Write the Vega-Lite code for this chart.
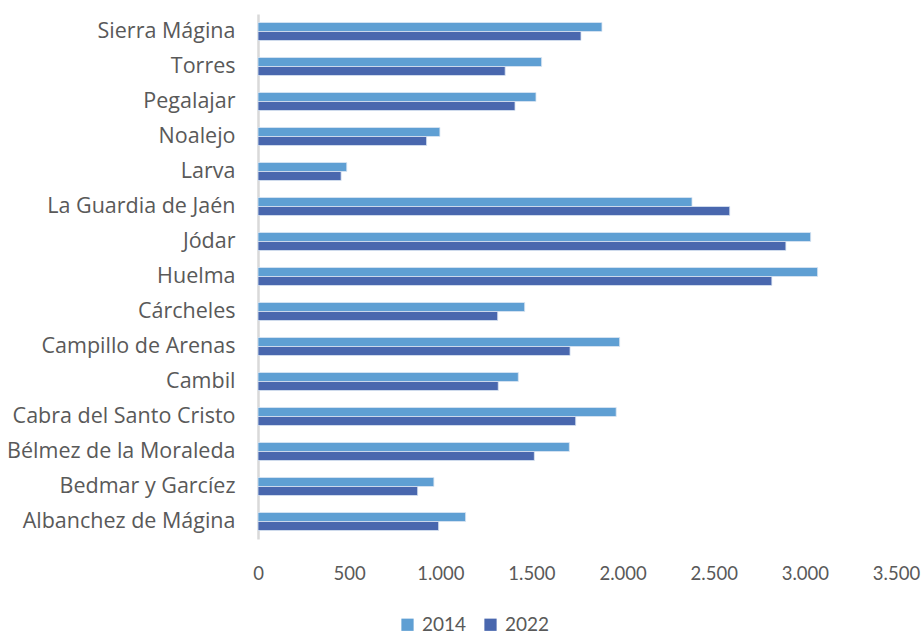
{
  "$schema": "https://vega.github.io/schema/vega-lite/v6.json",
  "width": 638,
  "height": 525,
  "autosize": {"type": "none"},
  "padding": {"left": 258, "top": 14, "right": 28, "bottom": 96},
  "background": "white",
  "config": {"view": {"stroke": null}, "font": "Lato"},
  "data": {
    "values": [
      {"municipio": "Sierra Mágina", "year": "2014", "value": 1887},
      {"municipio": "Sierra Mágina", "year": "2022", "value": 1772},
      {"municipio": "Torres", "year": "2014", "value": 1556},
      {"municipio": "Torres", "year": "2022", "value": 1356},
      {"municipio": "Pegalajar", "year": "2014", "value": 1525},
      {"municipio": "Pegalajar", "year": "2022", "value": 1410},
      {"municipio": "Noalejo", "year": "2014", "value": 998},
      {"municipio": "Noalejo", "year": "2022", "value": 925},
      {"municipio": "Larva", "year": "2014", "value": 487},
      {"municipio": "Larva", "year": "2022", "value": 456},
      {"municipio": "La Guardia de Jaén", "year": "2014", "value": 2381},
      {"municipio": "La Guardia de Jaén", "year": "2022", "value": 2588},
      {"municipio": "Jódar", "year": "2014", "value": 3032},
      {"municipio": "Jódar", "year": "2022", "value": 2896},
      {"municipio": "Huelma", "year": "2014", "value": 3070},
      {"municipio": "Huelma", "year": "2022", "value": 2819},
      {"municipio": "Cárcheles", "year": "2014", "value": 1463},
      {"municipio": "Cárcheles", "year": "2022", "value": 1315},
      {"municipio": "Campillo de Arenas", "year": "2014", "value": 1984},
      {"municipio": "Campillo de Arenas", "year": "2022", "value": 1712},
      {"municipio": "Cambil", "year": "2014", "value": 1428},
      {"municipio": "Cambil", "year": "2022", "value": 1318},
      {"municipio": "Cabra del Santo Cristo", "year": "2014", "value": 1965},
      {"municipio": "Cabra del Santo Cristo", "year": "2022", "value": 1743},
      {"municipio": "Bélmez de la Moraleda", "year": "2014", "value": 1708},
      {"municipio": "Bélmez de la Moraleda", "year": "2022", "value": 1516},
      {"municipio": "Bedmar y Garcíez", "year": "2014", "value": 965},
      {"municipio": "Bedmar y Garcíez", "year": "2022", "value": 876},
      {"municipio": "Albanchez de Mágina", "year": "2014", "value": 1139},
      {"municipio": "Albanchez de Mágina", "year": "2022", "value": 991}
    ]
  },
  "mark": {"type": "bar", "stroke": "#dbe6f3", "strokeWidth": 0.8},
  "encoding": {
    "y": {
      "field": "municipio",
      "type": "nominal",
      "sort": ["Sierra Mágina", "Torres", "Pegalajar", "Noalejo", "Larva", "La Guardia de Jaén", "Jódar", "Huelma", "Cárcheles", "Campillo de Arenas", "Cambil", "Cabra del Santo Cristo", "Bélmez de la Moraleda", "Bedmar y Garcíez", "Albanchez de Mágina"],
      "scale": {"paddingInner": 0.486, "paddingOuter": 0.243},
      "axis": {
        "title": null,
        "ticks": false,
        "domainColor": "#d9d9d9",
        "domainWidth": 2.5,
        "labelFont": "Open Sans",
        "labelFontSize": 21.5,
        "labelColor": "#595959",
        "labelPadding": 23,
        "labelLimit": 300
      }
    },
    "yOffset": {"field": "year", "type": "nominal", "sort": ["2014", "2022"]},
    "x": {
      "field": "value",
      "type": "quantitative",
      "scale": {"domain": [0, 3500], "nice": false},
      "axis": {
        "title": null,
        "values": [0, 500, 1000, 1500, 2000, 2500, 3000, 3500],
        "labelExpr": "replace(format(datum.value, ',d'), ',', '.')",
        "grid": false,
        "ticks": false,
        "domain": false,
        "labelFont": "Lato",
        "labelFontSize": 18.5,
        "labelColor": "#595959",
        "labelPadding": 25,
        "labelFlush": false
      }
    },
    "color": {
      "field": "year",
      "type": "nominal",
      "scale": {"domain": ["2014", "2022"], "range": ["#5F9FD3", "#4967AE"]},
      "legend": {
        "title": null,
        "orient": "none",
        "direction": "horizontal",
        "legendX": 140,
        "legendY": 601,
        "symbolType": "square",
        "symbolSize": 150,
        "symbolStrokeWidth": 0,
        "labelFont": "Lato",
        "labelFontSize": 19,
        "labelColor": "#595959",
        "columnPadding": 14,
        "labelOffset": 5
      }
    }
  }
}
